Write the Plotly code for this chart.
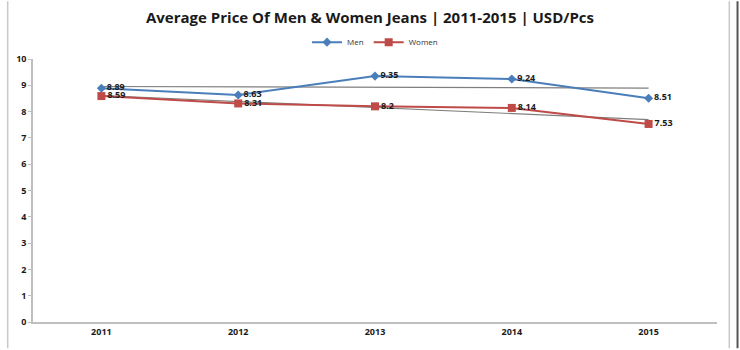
import numpy as np
import plotly.graph_objects as go

years = ["2011", "2012", "2013", "2014", "2015"]
men = [8.89, 8.63, 9.35, 9.24, 8.51]
women = [8.59, 8.31, 8.2, 8.14, 7.53]
y_ticks = [0, 1, 2, 3, 4, 5, 6, 7, 8, 9, 10]

FONT = "Open Sans"
idx = np.arange(len(years))


def trend(vals):
    a, b = np.polyfit(idx, vals, 1)
    return list(a * idx + b)


fig = go.Figure()

for vals in (men, women):
    fig.add_trace(go.Scatter(
        x=years, y=trend(vals), mode="lines",
        line=dict(color="#7f7f7f", width=1.2),
        showlegend=False, hoverinfo="skip"))

fig.add_trace(go.Scatter(
    x=years, y=men, name="Men", mode="lines+markers+text",
    line=dict(color="#4a7ebb", width=2),
    marker=dict(symbol="diamond", size=7, color="#4a7ebb"),
    text=[str(v) for v in men], textposition="middle right",
    textfont=dict(family=FONT, size=9, color="#1a1a1a", weight="bold")))

fig.add_trace(go.Scatter(
    x=years, y=women, name="Women", mode="lines+markers+text",
    line=dict(color="#be4b48", width=2),
    marker=dict(symbol="square", size=8, color="#be4b48"),
    text=[str(v) for v in women], textposition="middle right",
    textfont=dict(family=FONT, size=9, color="#1a1a1a", weight="bold")))

fig.update_layout(
    width=740, height=350,
    margin=dict(l=33, r=23, t=59, b=25),
    paper_bgcolor="white", plot_bgcolor="white",
    title=dict(text="<b>Average Price Of Men & Women Jeans | 2011-2015 | USD/Pcs</b>",
               x=0.5, xanchor="center", y=0.95, yanchor="middle",
               font=dict(family=FONT, size=15, color="#1a1a1a")),
    legend=dict(orientation="h", x=0.5, xanchor="center", y=1.064, yanchor="middle",
                font=dict(family=FONT, size=8, color="#333"),
                itemwidth=30, bgcolor="rgba(0,0,0,0)"),
    xaxis=dict(type="category", showgrid=False, showline=True,
               linecolor="#bfbfbf", linewidth=1.5, ticks="",
               tickfont=dict(family=FONT, size=9, color="#1a1a1a", weight="bold"),
               range=[-0.5, 4.5]),
    yaxis=dict(range=[0, 10], tickvals=y_ticks, showgrid=False, zeroline=False,
               showline=True, linecolor="#bfbfbf", linewidth=1.5,
               ticks="outside", ticklen=3, tickcolor="#bfbfbf",
               tickfont=dict(family=FONT, size=9, color="#1a1a1a", weight="bold")),
    shapes=[
        dict(type="line", xref="paper", yref="paper", x0=-0.037, x1=-0.037, y0=-0.1, y1=1.22,
             line=dict(color="#c8c8c8", width=1.5)),
        dict(type="line", xref="paper", yref="paper", x0=1.018, x1=1.018, y0=-0.1, y1=1.22,
             line=dict(color="#c8c8c8", width=1.5)),
        dict(type="line", xref="paper", yref="paper", x0=1.03, x1=1.03, y0=-0.1, y1=1.22,
             line=dict(color="#555555", width=2)),
    ],
)

fig.write_html("out.html")
